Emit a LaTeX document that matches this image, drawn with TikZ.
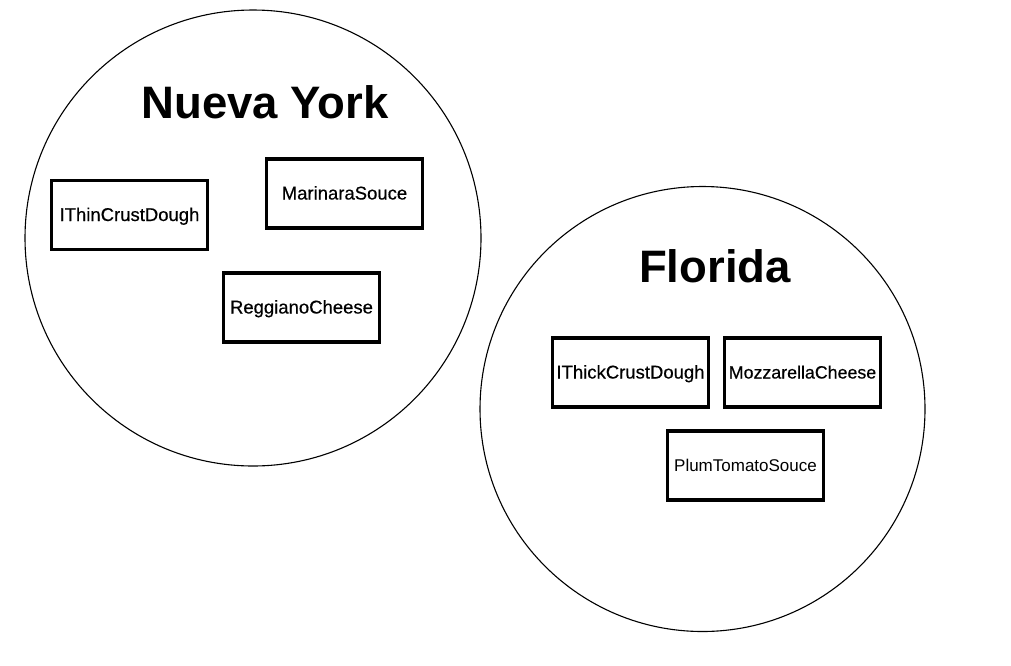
\documentclass[tikz,border=0pt]{standalone}
\usepackage{fontspec}
\setmainfont{Liberation Sans}
\newfontfamily\heavyfont[FakeBold=0.45]{Liberation Sans}
\begin{document}
\begin{tikzpicture}[x=1pt,y=-1pt,
  region/.style={circle,draw=black,line width=1.1pt,minimum size=#1,inner sep=0pt},
  ifbox/.style={draw=black,line width=3.4pt,minimum width=156pt,minimum height=69pt,inner sep=0pt,text height=15pt,text depth=3pt,font=\fontsize{17}{20}\selectfont},
  heavy/.style={font=\fontsize{#1}{22}\heavyfont},
  heavy/.default=18.5,
  title/.style={font=\fontsize{45.5}{50}\selectfont\bfseries}]
\useasboundingbox (0,0) rectangle (1011,665);
\fill[white] (0,0) rectangle (1011,665);
\node[region=456pt] (ny) at (253,238) {};
\node[region=445pt] (fl) at (702.5,409) {};
\node[title] (nyt) at (265,102) {Nueva York};
\node[title] (flt) at (715,266) {Florida};
\node[ifbox,heavy] (thin) at (129.5,215) {IThinCrustDough};
\node[ifbox,heavy] (mar) at (344.5,193.5) {MarinaraSouce};
\node[ifbox,heavy] (reg) at (301.5,307.5) {ReggianoCheese};
\node[ifbox,heavy] (thick) at (630.5,372.5) {IThickCrustDough};
\node[ifbox,heavy=17.8] (moz) at (802.5,372.5) {MozzarellaCheese};
\node[ifbox] (plum) at (745.5,465.5) {PlumTomatoSouce};
\end{tikzpicture}
\end{document}
